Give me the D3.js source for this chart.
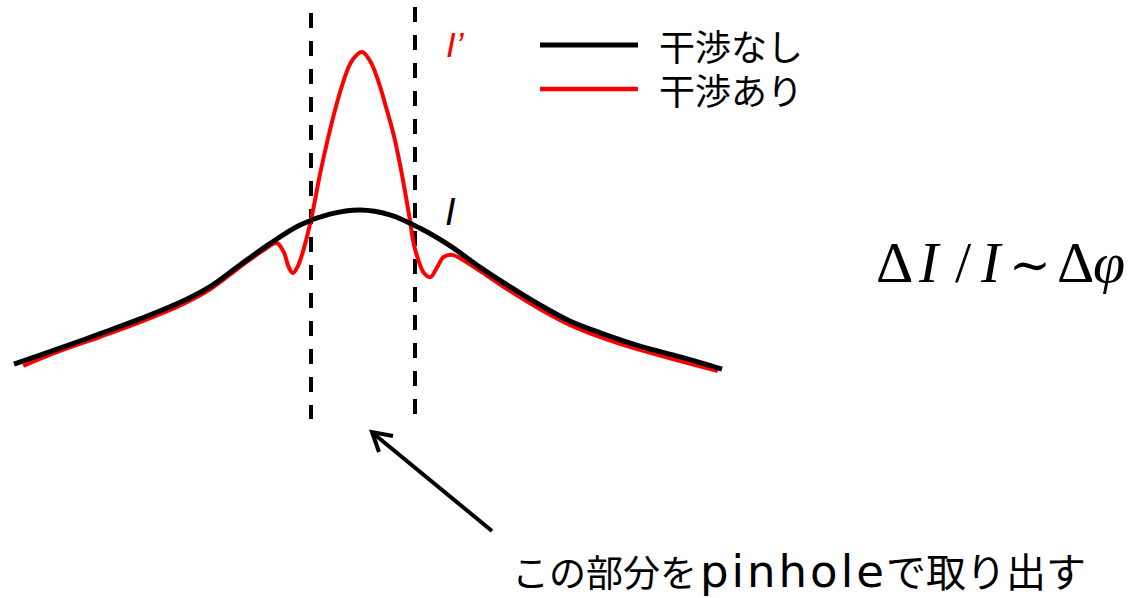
<!DOCTYPE html>
<html>
<head>
<meta charset="utf-8">
<script src="https://cdn.jsdelivr.net/npm/d3@7"></script>
<style>
  body { margin: 0; background: #fff; }
  svg { display: block; }
</style>
</head>
<body>
<div id="chart"></div>
<script>
// intensity profile (position, intensity in arbitrary units)
const noInterfPos = [-50, -43.5, -37.9, -32.2, -26.6, -22.3, -18.1, -13.8, -9.6, -5.4, -1.1, 3.1, 7.3, 11.6, 15.8, 20.1, 24.3, 28.5, 32.8, 38.4, 44.1, 50];
const noInterfVal = [10.3, 14.9, 19.0, 23.3, 28.0, 32.6, 38.8, 45.0, 50.3, 53.4, 54.6, 53.2, 49.4, 44.3, 38.2, 32.5, 27.3, 22.7, 19.3, 15.5, 12.4, 8.9];

const interfPos = [-48.7, -43.5, -37.9, -32.2, -26.6, -22.3, -18.1, -14.5, -12.9, -11.9, -11.2, -10.6, -9.9, -9.0, -7.9, -6.8, -5.6, -4.5, -3.4, -2.3, -0.85,
                   0.3, 1.4, 2.5, 3.7, 4.8, 5.8, 6.5, 7.2, 7.9, 8.8, 9.7, 10.7, 11.9, 13.7, 15.8, 20.1, 24.3, 28.5, 32.8, 38.4, 44.1, 49.4];
const interfVal = [9.8, 14.1, 18.1, 22.4, 27.1, 31.8, 38.2, 43.4, 45.1, 42.5, 38.2, 36.5, 38.5, 44.0, 53.2, 64.7, 75.6, 84.5, 92.0, 97.4, 100,
                   97.4, 92.0, 84.5, 75.6, 64.7, 53.2, 44.5, 39.7, 36.5, 35.3, 37.9, 41.1, 41.7, 39.9, 37.1, 31.3, 26.1, 21.6, 18.1, 14.4, 11.2, 8.3];

// pinhole edges
const pinholeEdges = [-8.05, 6.64];

const legendLabels = ["干渉なし", "干渉あり"];
const seriesColors = ["#000000", "#ff0000"];

const width = 1142, height = 598;

const svg = d3.select("#chart")
  .append("svg")
    .attr("width", width)
    .attr("height", height);

const x = d3.scaleLinear().domain([-50, 50]).range([14, 722]);
const y = d3.scaleLinear().domain([0, 100]).range([400, 52]);

const line = d3.line()
  .x(d => x(d[0]))
  .y(d => y(d[1]))
  .curve(d3.curveCatmullRom.alpha(0.5));

const blackData = d3.zip(noInterfPos, noInterfVal);
const redData = d3.zip(interfPos, interfVal);

// dashed pinhole boundaries
const dashTop = [13, 7], dashBottom = [419, 414];
svg.selectAll(".edge")
  .data(pinholeEdges)
  .join("line")
    .attr("class", "edge")
    .attr("x1", d => x(d))
    .attr("x2", d => x(d))
    .attr("y1", (d, i) => dashTop[i])
    .attr("y2", (d, i) => dashBottom[i])
    .attr("stroke", "#000")
    .attr("stroke-width", 4)
    .attr("stroke-dasharray", "15,13");

// curves
svg.append("path")
  .datum(redData)
  .attr("fill", "none")
  .attr("stroke", seriesColors[1])
  .attr("stroke-width", 4)
  .attr("stroke-linejoin", "round")
  .attr("d", line);

svg.append("path")
  .datum(blackData)
  .attr("fill", "none")
  .attr("stroke", seriesColors[0])
  .attr("stroke-width", 5)
  .attr("stroke-linejoin", "round")
  .attr("d", line);

// curve labels
svg.append("text")
  .attr("x", 446).attr("y", 57)
  .attr("font-family", "Liberation Sans, sans-serif")
  .attr("font-style", "italic")
  .attr("font-size", 35)
  .attr("fill", "#ff0000")
  .text("I’");

svg.append("text")
  .attr("x", 445).attr("y", 225)
  .attr("font-family", "Liberation Sans, sans-serif")
  .attr("font-style", "italic")
  .attr("font-size", 38)
  .attr("fill", "#000")
  .text("I");

// legend
const legend = svg.selectAll(".legend")
  .data(legendLabels)
  .join("g")
    .attr("class", "legend")
    .attr("transform", (d, i) => `translate(540, ${45 + i * 44})`);

legend.append("line")
  .attr("x1", 0).attr("x2", 98)
  .attr("stroke", (d, i) => seriesColors[i])
  .attr("stroke-width", (d, i) => i === 0 ? 5 : 4.5);

legend.append("text")
  .attr("x", 119).attr("y", 16)
  .attr("font-family", "Noto Sans CJK JP, sans-serif")
  .attr("font-size", 36)
  .attr("fill", "#000")
  .text(d => d);

// formula
const formula = svg.append("text")
  .attr("y", 282)
  .attr("font-family", "Liberation Serif, serif")
  .attr("font-size", 58)
  .attr("fill", "#000");
formula.append("tspan").attr("x", 876).text("Δ");
formula.append("tspan").attr("x", 919).attr("font-style", "italic").text("I");
formula.append("tspan").attr("x", 955).text("/");
formula.append("tspan").attr("x", 981).attr("font-style", "italic").text("I");
formula.append("tspan").attr("x", 1009).attr("font-family", "DejaVu Serif, serif").attr("font-size", 50).text("∼");
formula.append("tspan").attr("x", 1057).text("Δ");
formula.append("tspan").attr("x", 1093).attr("font-style", "italic").text("φ");

// arrow
svg.append("path")
  .attr("d", "M492,531L374,434")
  .attr("stroke", "#000")
  .attr("stroke-width", 4)
  .attr("fill", "none");
svg.append("path")
  .attr("d", "M393,436L372,432L379,452")
  .attr("stroke", "#000")
  .attr("stroke-width", 4)
  .attr("stroke-linejoin", "miter")
  .attr("fill", "none");

// bottom caption
const capFont = "Noto Sans CJK JP, sans-serif";
const caption = svg.append("text")
  .attr("y", 587)
  .attr("font-family", capFont)
  .attr("font-size", 37)
  .attr("fill", "#000");
caption.append("tspan").attr("x", 512).text("この部分を");
caption.append("tspan").attr("x", 700)
  .attr("font-family", "DejaVu Sans, sans-serif")
  .attr("font-size", 45)
  .attr("letter-spacing", 3)
  .text("pinhole");
caption.append("tspan").attr("x", 886).attr("font-size", 40).text("で取り出す");
</script>
</body>
</html>
